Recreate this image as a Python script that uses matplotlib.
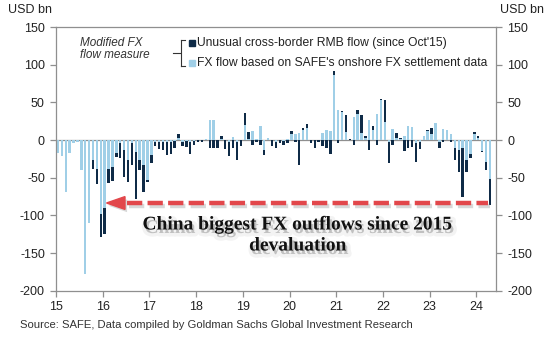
import numpy as np
import matplotlib
matplotlib.use("Agg")
import matplotlib.pyplot as plt
import matplotlib.patheffects as pe
from matplotlib.patches import Rectangle, Polygon
from matplotlib.lines import Line2D

plt.rcParams['font.family'] = ['Liberation Sans', 'DejaVu Sans']
plt.rcParams['lines.scale_dashes'] = False

# ---- data (USD bn, monthly from Jan 2015) ----
start_year = 2015
safe_fx = [-17, -21, -69, -17, -4, -2, -40, -178, -110, -27,
           -39, -98, -90, -38, -36, -17, -4, -13, -26, -4,
           -16, -26, -33, -53, -20, -2, -2, -2, -3, -2,
           -1, 3, -2, -1, -3, -1, 0, 0, 1, 26,
           26, 0, 1, 0, -3, 4, -3, 0, 20, 2,
           12, 1, 19, -13, 3, 0, -2, 0, -1, 2,
           8, 8, 10, 14, 16, 0, 0, 0, 9, 14,
           12, 86, 40, 37, 11, 0, 31, 35, 9, 3,
           26, 14, 35, 53, 24, -3, 15, 3, 1, 5,
           18, 17, -4, -2, 6, 12, 8, 22, -3, 15,
           13, 8, -11, -13, -10, -26, -18, 8, 3, -15,
           -29, -52]
unusual = [0, 0, 0, 0, 0, 0, 0, 0, 0, -11,
           -19, -31, -35, -19, -18, -5, -20, -36, -30, -29,
           -62, -14, -36, -3, -10, -6, -10, -11, -17, -16,
           -10, 5, -6, -8, -15, -6, -3, -2, 1, -11,
           -11, -10, 4, -12, -18, -10, -23, -8, 16, 9,
           -7, -3, -7, -7, 0, -8, -8, -4, -6, -4,
           4, -2, -33, 2, 5, -4, -10, -3, -8, -11,
           -18, 6, -4, 1, 22, 2, -6, 5, 24, 3,
           -13, 4, -7, 2, 29, -28, -7, 6, 2, -15,
           -10, -9, -25, -10, 0, 2, 8, 1, -8, -3,
           0, -3, -15, -29, -65, -16, -6, 3, 2, -1,
           -11, -34]
year_ticks = list(range(2015, 2025))
year_labels = [str(y)[2:] for y in year_ticks]
y_ticks = [150, 100, 50, 0, -50, -100, -150, -200]

L = np.array(safe_fx, dtype=float)
D = np.array(unusual, dtype=float)
n = len(L)
x = start_year + (np.arange(n) + 0.5) / 12.0
bottom_d = np.where(np.sign(L) == np.sign(D), L, 0.0)

light = '#a0cfe7'
dark = '#0f2b47'
grey = '#8f8f8f'
red = '#e2474b'

W, H = 555, 346
fig = plt.figure(figsize=(W / 100, H / 100), dpi=100)
fig.patch.set_facecolor('white')

def fx(px):
    return px / W

def fy(py):
    return 1 - py / H

ax = fig.add_axes([fx(56), fy(290.8), (496 - 56) / W, (290.8 - 27) / H])
bw = 0.62 / 12
ax.bar(x, L, width=bw, color=light, linewidth=0, zorder=2)
ax.bar(x, D, width=bw, bottom=bottom_d, color=dark, linewidth=0, zorder=3)
ax.axhline(0, color=grey, lw=0.9, zorder=1)

ax.set_xlim(2015.0, 2015 + (496 - 56) / 46.7)
ax.set_ylim(-200, 150)
ax.set_xticks(year_ticks)
ax.set_xticklabels(year_labels)
ax.set_yticks(y_ticks)
ax.set_yticklabels([str(v) for v in y_ticks])
for s in ax.spines.values():
    s.set_color(grey)
    s.set_linewidth(0.9)
ax.tick_params(axis='both', colors=grey, labelcolor='#222222', labelsize=9,
               direction='out', length=4, width=0.9)
ax.tick_params(axis='y', right=True, labelright=True, pad=4)
ax.tick_params(axis='x', pad=3)

# units
fig.text(fx(8), fy(10), 'USD bn', fontsize=9, color='#222222', va='center', ha='left')
fig.text(fx(500), fy(10), 'USD bn', fontsize=9, color='#222222', va='center', ha='left')

# legend
fig.text(fx(80), fy(42.5), 'Modified FX', fontsize=8.5, style='italic', color='#333333', va='center')
fig.text(fx(80), fy(55.5), 'flow measure', fontsize=8.5, style='italic', color='#333333', va='center')
bk = dict(color='#333333', lw=0.8, transform=fig.transFigure)
fig.add_artist(Line2D([fx(173), fx(180)], [fy(53), fy(53)], **bk))
fig.add_artist(Line2D([fx(180.5), fx(180.5)], [fy(40), fy(66)], **bk))
fig.add_artist(Line2D([fx(180.5), fx(185)], [fy(40), fy(40)], **bk))
fig.add_artist(Line2D([fx(180.5), fx(185)], [fy(66), fy(66)], **bk))
fig.add_artist(Rectangle((fx(189), fy(46)), fx(6), 6 / H, color=dark, transform=fig.transFigure))
fig.add_artist(Rectangle((fx(189), fy(66)), fx(6), 6 / H, color=light, transform=fig.transFigure))
fig.text(fx(197), fy(43), "Unusual cross-border RMB flow (since Oct'15)", fontsize=8.7,
         color='#222222', va='center')
fig.text(fx(197), fy(62.5), "FX flow based on SAFE's onshore FX settlement data", fontsize=8.7,
         color='#222222', va='center')

# red dashed arrow
def xd(px):
    return 2015 + (px - 56) / 46.7

y_arrow = -83.5
shadow = [pe.SimpleLineShadow(offset=(1.5, -2), shadow_color='gray', alpha=0.3), pe.Normal()]
ax.plot([xd(127), xd(488)], [y_arrow, y_arrow], color=red, lw=3.2,
        dashes=(11, 3.8), solid_capstyle='butt', dash_capstyle='butt', zorder=5,
        path_effects=shadow)
head = Polygon([[xd(106.5), y_arrow], [xd(125), y_arrow + 8.5], [xd(125), y_arrow - 8.5]],
               closed=True, color=red, zorder=5,
               path_effects=[pe.SimplePatchShadow(offset=(1.5, -2), shadow_rgbFace='gray', alpha=0.3),
                             pe.Normal()])
ax.add_patch(head)

tshadow = [pe.Stroke(linewidth=5, foreground='#d0d0d0', alpha=0.25, offset=(1.5, -2.5)),
           pe.SimplePatchShadow(offset=(1.5, -2.5), shadow_rgbFace='#aaaaaa', alpha=0.18),
           pe.Normal()]
fig.text(fx(298), fy(225), 'China biggest FX outflows since 2015', fontsize=14,
         family='Liberation Serif', weight='bold', color='#111111', ha='center', va='center',
         path_effects=tshadow)
fig.text(fx(298), fy(246), 'devaluation', fontsize=14,
         family='Liberation Serif', weight='bold', color='#111111', ha='center', va='center',
         path_effects=tshadow)

fig.text(fx(20), fy(325), 'Source: SAFE, Data compiled by Goldman Sachs Global Investment Research',
         fontsize=8.1, color='#333333', va='center', ha='left')

fig.savefig('out.png', dpi=100, facecolor='white')
